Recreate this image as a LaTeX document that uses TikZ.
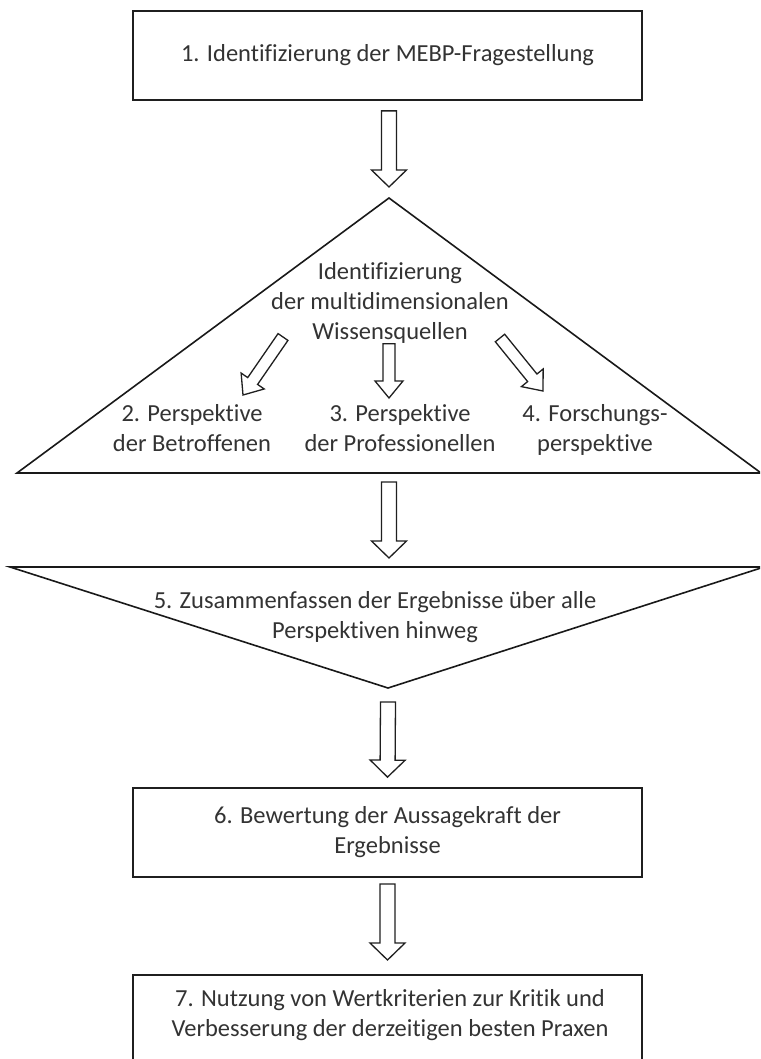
\documentclass[tikz,border=0pt]{standalone}
\usepackage{fontspec}
\setmainfont{Carlito}[Ligatures={NoCommon}]
\usetikzlibrary{calc}
\tikzset{
  frame/.style={draw=black!88, line width=1.8pt},
  tri/.style={draw=black!90, line width=1.6pt, line join=miter},
  txt/.style={align=center, font=\fontsize{24.5}{30}\selectfont, text=black!80, inner sep=0pt},
  lbl/.style={txt, text depth=6pt},
  fatarrow/.style={draw=black!88, line width=1.3pt, fill=white, line join=miter},
}
% #1 start, #2 end, #3 shaft half width, #4 head half width, #5 head length
\newcommand\fatarr[5]{%
  \draw[fatarrow]
    ($(#1)!#3!90:(#2)$) --
    ($(#2)!#5!(#1)!#3!90:(#2)$) --
    ($(#2)!#5!(#1)!#4!90:(#2)$) --
    (#2) --
    ($(#2)!#5!(#1)!#4!-90:(#2)$) --
    ($(#2)!#5!(#1)!#3!-90:(#2)$) --
    ($(#1)!#3!-90:(#2)$) -- cycle;}
\begin{document}
\begin{tikzpicture}[x=1pt,y=-1pt]
\useasboundingbox (0,0) rectangle (760,1059);
\fill[white] (0,0) rectangle (760,1059);
\clip (0,0) rectangle (760,1059);

% Box 1
\node[frame, txt, minimum width=509pt, minimum height=89pt] (b1) at (387.5,55.5)
  {1. Identifizierung der MEBP-Fragestellung};

% Triangle 1
\coordinate (apex1) at (389,198);
\coordinate (bl1) at (17,473);
\coordinate (br1) at (761,473);
\draw[tri] (apex1) -- (bl1) -- (br1) -- cycle;
\node[txt] (tt) at (390,303) {Identifizierung\\der multidimensionalen\\Wissensquellen};
\node[lbl] (p2) at (192,431) {2. Perspektive\\der Betroffenen};
\node[lbl] (p3) at (400,431) {3. Perspektive\\der Professionellen};
\node[lbl] (p4) at (595,431) {4. Forschungs-\\perspektive};

% Inverted triangle 5
\coordinate (tl5) at (10,567);
\coordinate (tr5) at (764,567);
\coordinate (apex5) at (388,688);
\draw[tri] (tl5) -- (tr5) -- (apex5) -- cycle;
\node[txt] (t5) at (375,617) {5. Zusammenfassen der Ergebnisse über alle\\Perspektiven hinweg};

% Box 6
\node[frame, txt, minimum width=509pt, minimum height=89pt] (b6) at (387.5,832.5)
  {6. Bewertung der Aussagekraft der\\Ergebnisse};

% Box 7 (cut off at the bottom)
\coordinate (b7top) at (387.5,975);
\draw[frame] (133,1080) |- (642,975) -- (642,1080);
\node[txt] (t7) at (390,1015) {7. Nutzung von Wertkriterien zur Kritik und\\Verbesserung der derzeitigen besten Praxen};

% Big arrows
\coordinate (a1s) at ($(b1.south)+(1.5,10)$);
\coordinate (a1e) at ($(apex1)+(0,-11)$);
\fatarr{a1s}{a1e}{7.5pt}{17.5pt}{17pt}
\coordinate (a2s) at ($(apex1 |- bl1)+(0,9)$);
\coordinate (a2e) at ($(apex1 |- tl5)+(0,-9)$);
\fatarr{a2s}{a2e}{7.5pt}{17.5pt}{17pt}
\coordinate (a3s) at ($(apex5)+(0,14)$);
\coordinate (a3e) at ($(b6.north)+(0,-10)$);
\fatarr{a3s}{a3e}{7.5pt}{17.5pt}{17pt}
\coordinate (a4s) at ($(b6.south)+(0,6)$);
\coordinate (a4e) at ($(b7top)+(0,-15)$);
\fatarr{a4s}{a4e}{7.5pt}{17.5pt}{17pt}

% Small arrows inside triangle
\coordinate (s2s) at (283,337);
\coordinate (s2e) at (243,395);
\fatarr{s2s}{s2e}{6pt}{14pt}{17pt}
\coordinate (s3s) at ($(tt.south)+(-1,0)$);
\coordinate (s3e) at (389,398);
\fatarr{s3s}{s3e}{6pt}{14pt}{17pt}
\coordinate (s4s) at (500,338);
\coordinate (s4e) at (543,391);
\fatarr{s4s}{s4e}{6pt}{14pt}{17pt}
\end{tikzpicture}
\end{document}
